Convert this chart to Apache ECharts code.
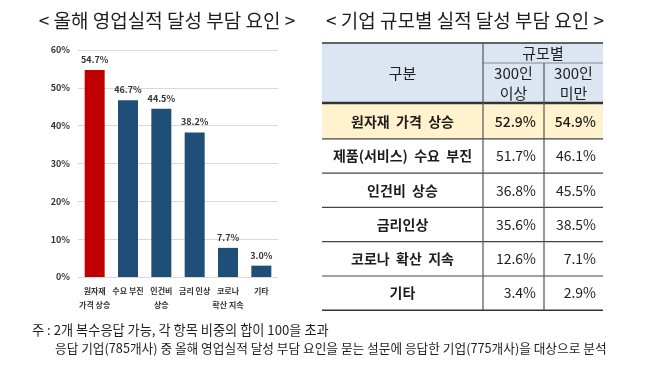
<!DOCTYPE html>
<html><head><meta charset="utf-8">
<script src="https://cdn.jsdelivr.net/npm/echarts@6/dist/echarts.min.js"></script>
<style>html,body{margin:0;padding:0;background:#fff}#c{width:658px;height:367px}</style>
</head><body><div id="c"></div>
<script>
// ---- data ----
const categories = ['원자재\n가격 상승', '수요 부진', '인건비\n상승', '금리 인상', '코로나\n확산 지속', '기타'];
const burdenValues = [54.7, 46.7, 44.5, 38.2, 7.7, 3.0];
const yMin = 0, yMax = 60, yStep = 10;
const tableRowLabels = ['원자재  가격  상승', '제품(서비스)  수요  부진', '인건비  상승', '금리인상', '코로나  확산  지속', '기타'];
const over300 = [52.9, 51.7, 36.8, 35.6, 12.6, 3.4];
const under300 = [54.9, 46.1, 45.5, 38.5, 7.1, 2.9];
const headerLabels = ['구분', '규모별', '300인\n이상', '300인\n미만'];
const titles = ['< 올해 영업실적 달성 부담 요인 >', '< 기업 규모별 실적 달성 부담 요인 >'];
const notes = ['주 : 2개 복수응답 가능, 각 항목 비중의 합이 100을 초과',
  '응답 기업(785개사) 중 올해 영업실적 달성 부담 요인을 묻는 설문에 응답한 기업(775개사)을 대상으로 분석'];

// ---- layout ----
const FONT = '"Noto Sans CJK KR", "Noto Sans", sans-serif';
const T = { x0: 322, x1: 483, x2: 544, x3: 603, top: 43, sub: 63, hb: 103, rowTop: 104.5, rowH: 34.3 };
const g = [];
function line(x1, y1, x2, y2, w, c) {
  g.push({ type: 'line', shape: { x1, y1, x2, y2 }, style: { stroke: c, lineWidth: w }, silent: true });
}
function txt(text, x, y, size, weight, align, extra) {
  g.push({ type: 'text', style: Object.assign({ text, x, y, fill: '#1e1e1e', font: `${weight} ${size}px ${FONT}`,
    textAlign: align, textVerticalAlign: 'middle', lineHeight: size + 5 }, extra || {}), silent: true });
}
const bottom = T.rowTop + T.rowH * tableRowLabels.length;
// backgrounds
g.push({ type: 'rect', shape: { x: T.x0, y: T.top, width: T.x3 - T.x0, height: T.hb - T.top }, style: { fill: '#DCE6F2' }, silent: true });
g.push({ type: 'rect', shape: { x: T.x0, y: T.rowTop, width: T.x3 - T.x0, height: T.rowH }, style: { fill: '#FFF2CC' }, silent: true });
// lines
line(T.x0, T.top, T.x3, T.top, 1.5, '#333');
line(T.x1, T.sub, T.x3, T.sub, 1, '#8a8a8a');
line(T.x0, T.hb, T.x3, T.hb, 2.5, '#333');
for (let i = 1; i < tableRowLabels.length; i++) {
  const y = T.rowTop + i * T.rowH;
  line(T.x0, y, T.x3, y, 1.2, '#444');
}
line(T.x0, bottom, T.x3, bottom, 1.6, '#333');
line(T.x1, T.top, T.x1, bottom, 1.2, '#555');
line(T.x2, T.sub, T.x2, bottom, 1.2, '#555');
// header text
txt(headerLabels[0], (T.x0 + T.x1) / 2, (T.top + T.hb) / 2, 15, 'normal', 'center');
txt(headerLabels[1], (T.x1 + T.x3) / 2, (T.top + T.sub) / 2, 15, 'normal', 'center');
txt(headerLabels[2], (T.x1 + T.x2) / 2, (T.sub + T.hb) / 2, 15, 'normal', 'center', { lineHeight: 20 });
txt(headerLabels[3], (T.x2 + T.x3) / 2, (T.sub + T.hb) / 2, 15, 'normal', 'center', { lineHeight: 20 });
// rows
tableRowLabels.forEach((lab, i) => {
  const y = T.rowTop + (i + 0.5) * T.rowH;
  txt(lab, (T.x0 + T.x1) / 2, y, 14, 'bold', 'center');
  const w = i === 0 ? '500' : 'normal';
  txt(over300[i].toFixed(1) + '%', T.x2 - 8, y, 14, w, 'right');
  txt(under300[i].toFixed(1) + '%', T.x3 - 7, y, 14, w, 'right');
});
// titles and notes
txt(titles[0], 167, 21, 19, 'normal', 'center');
txt(titles[1], 465, 21, 19, 'normal', 'center');
txt(notes[0], 32, 330, 13.2, 'normal', 'left');
txt(notes[1], 55, 348, 12.7, 'normal', 'left');

const chart = echarts.init(document.getElementById('c'));
chart.setOption({
  animation: false,
  textStyle: { fontFamily: FONT },
  grid: { left: 78, right: 380, top: 50, bottom: 90, containLabel: false },
  xAxis: {
    type: 'category', data: categories,
    axisLine: { show: false }, axisTick: { show: false },
    axisLabel: { interval: 0, fontSize: 8, fontWeight: 'bold', color: '#333', lineHeight: 14, margin: 7 }
  },
  yAxis: {
    type: 'value', min: yMin, max: yMax, interval: yStep,
    axisLine: { show: false }, axisTick: { show: false },
    splitLine: { lineStyle: { color: '#d9d9d9', width: 1 } },
    axisLabel: { formatter: v => v + '%', fontSize: 9, fontWeight: 'bold', color: '#333', margin: 8 }
  },
  series: [{
    type: 'bar', data: burdenValues.map((v, i) => ({ value: v, itemStyle: { color: i === 0 ? '#C00000' : '#1F4E79' } })),
    barWidth: '60%',
    label: { show: true, position: 'top', distance: 6, formatter: p => p.value.toFixed(1) + '%', fontSize: 9, fontWeight: 'bold', color: '#333' }
  }],
  graphic: g
});
</script></body></html>
